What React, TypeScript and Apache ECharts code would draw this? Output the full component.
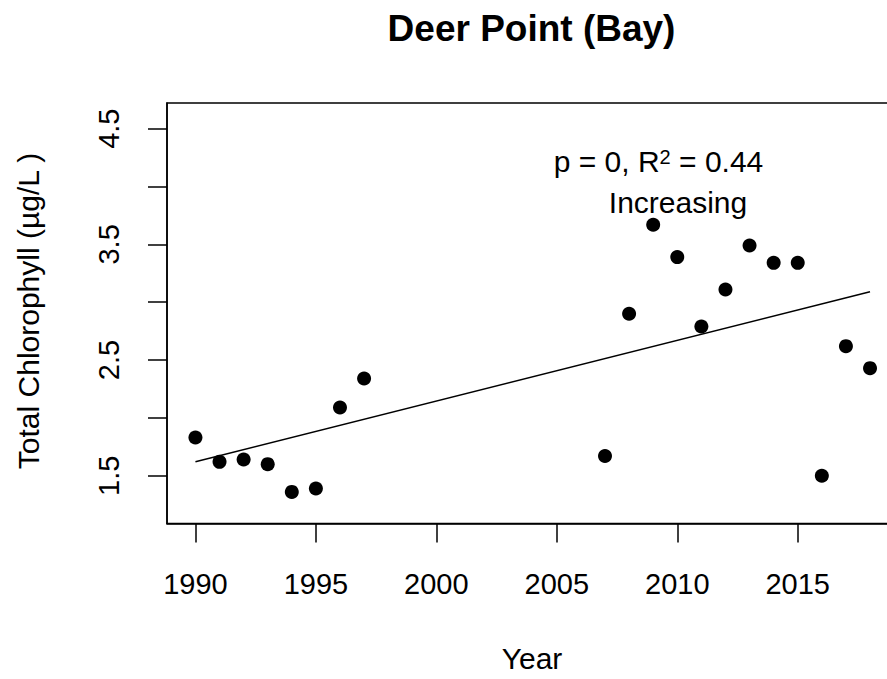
import React, { useEffect, useRef } from "react";
import * as echarts from "echarts";

const years = [1990, 1991, 1992, 1993, 1994, 1995, 1996, 1997, 2007, 2008, 2009, 2010, 2011, 2012, 2013, 2014, 2015, 2016, 2017, 2018];
const chlorophyll = [1.83, 1.62, 1.64, 1.60, 1.36, 1.39, 2.09, 2.34, 1.67, 2.90, 3.67, 3.39, 2.79, 3.11, 3.49, 3.34, 3.34, 1.50, 2.62, 2.43];
const trendYears = [1990, 2018];
const trendValues = [1.62, 3.09];
const xTicks = [1990, 1995, 2000, 2005, 2010, 2015];
const yTicks = [1.5, 2, 2.5, 3, 3.5, 4, 4.5];
const yLabels = [1.5, 2.5, 3.5, 4.5];

const titleText = "Deer Point (Bay)";
const xTitle = "Year";
const yTitle = "Total Chlorophyll (µg/L )";
const statText = "{a|p = 0, R}{s|2}{a| = 0.44}";
const trendText = "Increasing";

const FONT = "'Liberation Sans', Arial, sans-serif";

export default function App() {
  const ref = useRef<HTMLDivElement>(null);
  useEffect(() => {
    if (!ref.current) return;
    const chart = echarts.init(ref.current, undefined, { renderer: "svg" });
    const points = years.map((y, i) => [y, chlorophyll[i]]);
    const trend = trendYears.map((y, i) => [y, trendValues[i]]);
    chart.setOption({
      animation: false,
      backgroundColor: "#fff",
      grid: {
        left: 167,
        top: 103,
        right: 0,
        bottom: 155.5,
        show: true,
        borderColor: "#000",
        borderWidth: 1.5,
        containLabel: false,
      },
      xAxis: {
        type: "value",
        min: 1988.82,
        max: 2019.12,
        axisLine: { show: true, onZero: false, lineStyle: { color: "#000", width: 1.5 } },
        axisTick: { show: true, inside: false, length: 19, customValues: xTicks, lineStyle: { color: "#000", width: 1.5 } },
        axisLabel: {
          customValues: xTicks,
          fontSize: 29,
          color: "#000",
          fontFamily: FONT,
          margin: 46,
          formatter: (v: number) => String(v),
        },
        splitLine: { show: false },
        name: xTitle,
        nameLocation: "middle",
        nameGap: 120,
        nameTextStyle: { fontSize: 30, color: "#000", fontFamily: FONT },
      },
      yAxis: {
        type: "value",
        min: 1.087,
        max: 4.722,
        axisLine: { show: true, onZero: false, lineStyle: { color: "#000", width: 1.5 } },
        axisTick: { show: true, inside: false, length: 19, customValues: yTicks, lineStyle: { color: "#000", width: 1.5 } },
        axisLabel: {
          customValues: yLabels,
          rotate: 90,
          fontSize: 29,
          color: "#000",
          fontFamily: FONT,
          margin: 44,
          formatter: (v: number) => v.toFixed(1),
        },
        splitLine: { show: false },
      },
      graphic: [
        {
          type: "text",
          x: 531.5,
          y: 28.5,
          style: {
            text: titleText,
            fontSize: 37,
            fontWeight: "bold",
            fontFamily: FONT,
            fill: "#000",
            align: "center",
            verticalAlign: "middle",
          },
        },
        {
          type: "text",
          x: 28,
          y: 311,
          rotation: Math.PI / 2,
          style: {
            text: yTitle,
            fontSize: 30,
            fontFamily: FONT,
            fill: "#000",
            align: "center",
            verticalAlign: "middle",
          },
        },
        {
          type: "text",
          x: 658.5,
          y: 161.5,
          style: {
            text: statText,
            align: "center",
            verticalAlign: "middle",
            rich: {
              a: { fontSize: 30, fontFamily: FONT, fill: "#000", lineHeight: 30, verticalAlign: "bottom" },
              s: { fontSize: 20, fontFamily: FONT, fill: "#000", lineHeight: 20, padding: [0, 0, 16, 0], verticalAlign: "top" },
            },
          },
        },
        {
          type: "text",
          x: 678,
          y: 202,
          style: {
            text: trendText,
            fontSize: 30,
            fontFamily: FONT,
            fill: "#000",
            align: "center",
            verticalAlign: "middle",
          },
        },
      ],
      series: [
        {
          type: "line",
          data: trend,
          symbol: "none",
          lineStyle: { color: "#000", width: 1.5 },
          silent: true,
          z: 2,
        },
        {
          type: "scatter",
          data: points,
          symbol: "circle",
          symbolSize: 14,
          itemStyle: { color: "#000", opacity: 1 },
          z: 3,
        },
      ],
    });
    return () => chart.dispose();
  }, []);
  return (
    <div style={{ position: "absolute", left: 0, top: 0, width: 887, height: 679, overflow: "hidden" }}>
      <div ref={ref} style={{ position: "absolute", left: 0, top: 0, width: 897, height: 679 }} />
    </div>
  );
}
